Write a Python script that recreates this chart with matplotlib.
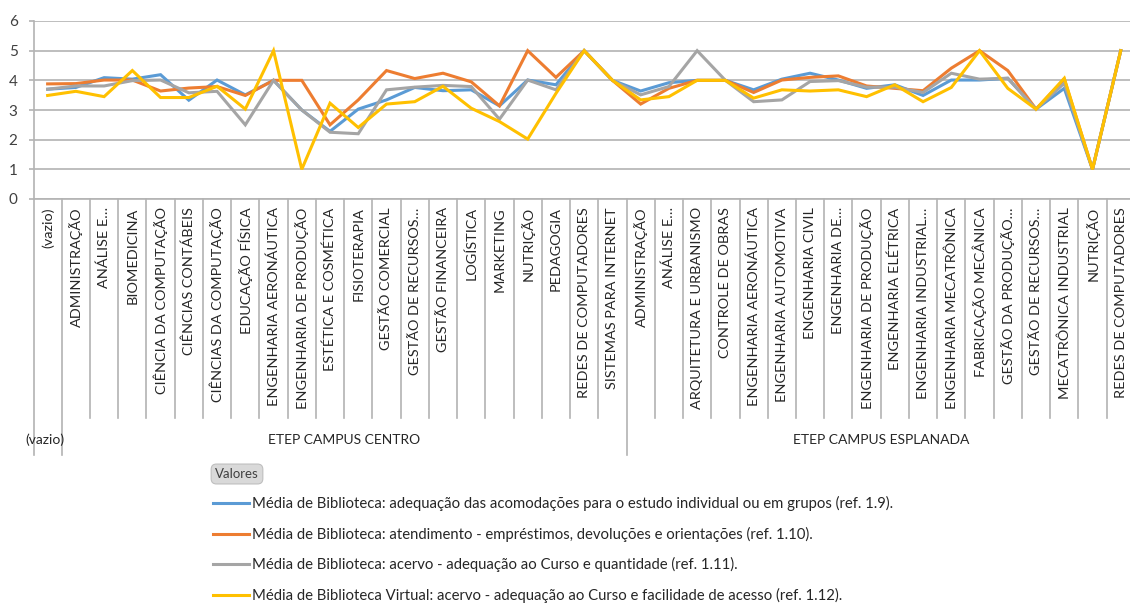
import matplotlib
matplotlib.use("Agg")
import matplotlib.pyplot as plt
from matplotlib.lines import Line2D
from matplotlib.transforms import blended_transform_factory

categories = ["(vazio)",
              "ADMINISTRAÇÃO", "ANÁLISE E…", "BIOMEDICINA", "CIÊNCIA DA COMPUTAÇÃO",
              "CIÊNCIAS CONTÁBEIS", "CIÊNCIAS DA COMPUTAÇÃO", "EDUCAÇÃO FÍSICA",
              "ENGENHARIA AERONÁUTICA", "ENGENHARIA DE PRODUÇÃO", "ESTÉTICA E COSMÉTICA",
              "FISIOTERAPIA", "GESTÃO COMERCIAL", "GESTÃO DE RECURSOS…", "GESTÃO FINANCEIRA",
              "LOGÍSTICA", "MARKETING", "NUTRIÇÃO", "PEDAGOGIA", "REDES DE COMPUTADORES",
              "SISTEMAS PARA INTERNET",
              "ADMINISTRAÇÃO", "ANÁLISE E…", "ARQUITETURA E URBANISMO", "CONTROLE DE OBRAS",
              "ENGENHARIA AERONÁUTICA", "ENGENHARIA AUTOMOTIVA", "ENGENHARIA CIVIL",
              "ENGENHARIA DE…", "ENGENHARIA DE PRODUÇÃO", "ENGENHARIA ELÉTRICA",
              "ENGENHARIA INDUSTRIAL…", "ENGENHARIA MECATRÔNICA", "FABRICAÇÃO MECÂNICA",
              "GESTÃO DA PRODUÇÃO…", "GESTÃO DE RECURSOS…", "MECATRÔNICA INDUSTRIAL",
              "NUTRIÇÃO", "REDES DE COMPUTADORES"]

groups = ["(vazio)", "ETEP CAMPUS CENTRO", "ETEP CAMPUS ESPLANADA"]
group_sizes = [1, 20, 18]

blue = [3.70, 3.76, 4.09, 4.04, 4.19, 3.33, 4.01, 3.51, 4.00, 3.00, 2.28, 3.03, 3.34, 3.76,
        3.65, 3.68, 3.14, 4.01, 3.85, 5.00, 4.00, 3.64, 3.92, 4.00, 4.00, 3.68, 4.04, 4.24,
        4.01, 3.73, 3.85, 3.49, 4.01, 4.01, 4.07, 3.03, 3.73, 1.00, 5.00]
orange = [3.88, 3.89, 4.01, 4.01, 3.64, 3.74, 3.79, 3.49, 4.00, 4.00, 2.50, 3.34, 4.33, 4.06,
          4.24, 3.95, 3.14, 5.00, 4.10, 5.00, 4.00, 3.20, 3.73, 4.00, 4.00, 3.59, 4.01, 4.10,
          4.15, 3.81, 3.73, 3.65, 4.41, 5.00, 4.33, 3.03, 4.04, 1.00, 5.00]
gray = [3.70, 3.81, 3.81, 3.99, 4.01, 3.58, 3.63, 2.50, 4.00, 3.00, 2.25, 2.20, 3.68, 3.77,
        3.83, 3.79, 2.69, 4.01, 3.68, 5.00, 4.00, 3.51, 3.79, 5.00, 4.00, 3.28, 3.34, 3.96,
        3.99, 3.77, 3.77, 3.59, 4.24, 4.04, 4.07, 3.03, 3.90, 1.00, 5.00]
yellow = [3.49, 3.63, 3.45, 4.33, 3.42, 3.42, 3.80, 3.03, 5.00, 1.00, 3.23, 2.41, 3.20, 3.28,
          3.80, 3.06, 2.61, 2.02, 3.56, 5.00, 4.00, 3.34, 3.45, 4.00, 4.00, 3.40, 3.68, 3.64,
          3.68, 3.45, 3.85, 3.28, 3.76, 5.00, 3.73, 3.03, 4.07, 1.00, 5.00]

series_names = [
    "Média de Biblioteca: adequação das acomodações para o estudo individual ou em grupos (ref. 1.9).",
    "Média de Biblioteca: atendimento - empréstimos, devoluções e orientações (ref. 1.10).",
    "Média de Biblioteca: acervo - adequação ao Curso e quantidade (ref. 1.11).",
    "Média de Biblioteca Virtual: acervo - adequação ao Curso e facilidade de acesso (ref. 1.12).",
]
colors = ["#5B9BD5", "#ED7D31", "#A5A5A5", "#FFC000"]

W, H = 1130, 603
plt.rcParams['font.family'] = ['Lato', 'DejaVu Sans']
fig = plt.figure(figsize=(W / 100, H / 100), dpi=100)

x0_px, x1_px = 33.5, 1130
step_px = 28.24
yb_px, yt_px = 199, 21
ax = fig.add_axes([x0_px / W, 1 - yb_px / H, (x1_px - x0_px) / W, (yb_px - yt_px) / H])
n = len(categories)
xs = list(range(n))
ax.set_xlim(-0.5, -0.5 + (x1_px - x0_px) / step_px)
ax.set_ylim(0, 6)

grid_c = "#b3b3b3"
ax.set_yticks(range(0, 7))
ax.yaxis.grid(True, color=grid_c, linewidth=1.2)
ax.set_axisbelow(True)
for s in ["top", "right", "bottom"]:
    ax.spines[s].set_visible(False)
ax.spines["left"].set_color(grid_c)
ax.spines["left"].set_linewidth(1.2)
ax.tick_params(axis="y", length=3.5, width=1.2, color=grid_c, labelsize=11,
               labelcolor="#404040", pad=8)

lines = []
for vals, c, name in zip([blue, orange, gray, yellow], colors, series_names):
    ln, = ax.plot(xs, vals, color=c, linewidth=2.2, label=name, solid_joinstyle="miter",
                  clip_on=False)
    lines.append(ln)

ax.set_xticks(xs)
ax.set_xticklabels(categories, rotation=90, fontsize=10.4, color="#262626")
ax.tick_params(axis="x", length=0, pad=6)
for lbl in ax.get_xticklabels():
    lbl.set_va("top")

# category separators
tr = blended_transform_factory(ax.transData, fig.transFigure)
long_bounds = [-0.5, 0.5, 0.5 + group_sizes[1]]
for i in range(n):
    b = i - 0.5
    y_end = 455 if b in long_bounds else 418
    fig.add_artist(Line2D([b, b], [1 - 199 / H, 1 - y_end / H], transform=tr,
                          color=grid_c, linewidth=1.2))
fig.add_artist(Line2D([-0.5, -0.5 + (x1_px - x0_px) / step_px], [1 - 199 / H, 1 - 199 / H],
                      transform=tr, color=grid_c, linewidth=1.2))

# group labels
start = 0
for g, sz in zip(groups, group_sizes):
    cx = start + (sz - 1) / 2
    if g == "(vazio)":
        fig.text(25 / W, 1 - 440 / H, g, ha="left", va="center", fontsize=10, color="#262626")
    else:
        fig.text(cx, 1 - 440 / H, g, transform=tr, ha="center", va="center",
                 fontsize=10, color="#262626")
    start += sz

# Valores button
fig.text(237 / W, 1 - 474 / H, "Valores", ha="center", va="center", fontsize=9.5,
         color="#404040",
         bbox=dict(boxstyle="round,pad=0.3,rounding_size=0.4", facecolor="#d9d9d9",
                   edgecolor="#bfbfbf", linewidth=0.8))

leg = fig.legend(handles=lines, loc="upper left", bbox_to_anchor=(213 / W, 1 - 496 / H),
                 frameon=False, fontsize=10.7, handlelength=2.45, handletextpad=0.2,
                 labelspacing=1.05, borderpad=0, borderaxespad=0)
for t in leg.get_texts():
    t.set_color("#262626")

fig.savefig("out.png", dpi=100)
